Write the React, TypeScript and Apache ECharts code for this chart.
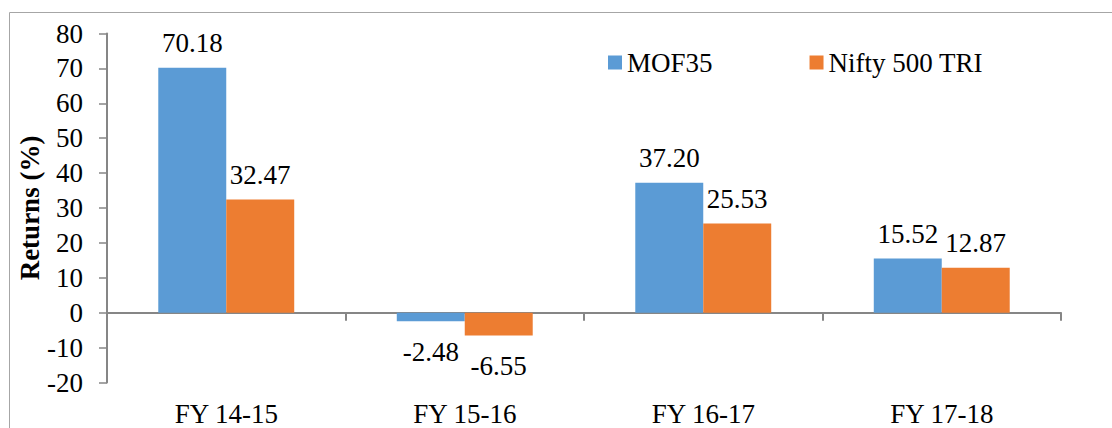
import React, { useEffect, useRef } from "react";
import * as echarts from "echarts";

const categories = ["FY 14-15", "FY 15-16", "FY 16-17", "FY 17-18"];
const mof35 = [70.18, -2.48, 37.2, 15.52];
const nifty500 = [32.47, -6.55, 25.53, 12.87];
const seriesNames = ["MOF35", "Nifty 500 TRI"];
const yMin = -20;
const yMax = 80;
const yInterval = 10;

const FONT = "Liberation Serif";

function toData(values: number[]) {
  return values.map((v) => ({
    value: v,
    label: v < 0 ? { position: "bottom", distance: 17 } : { position: "top", distance: 11 },
  }));
}

export default function App() {
  const ref = useRef<HTMLDivElement>(null);
  useEffect(() => {
    if (!ref.current) return;
    const chart = echarts.init(ref.current, null, { renderer: "svg" });
    const labelStyle = {
      show: true,
      fontFamily: FONT,
      fontSize: 27,
      color: "#000",
      formatter: (p: any) => Number(p.value).toFixed(2),
    };
    chart.setOption({
      animation: false,
      backgroundColor: "#fff",
      textStyle: { fontFamily: FONT },
      graphic: [
        {
          type: "rect",
          shape: { x: 9.5, y: 12.5, width: 1200, height: 600 },
          style: { fill: "none", stroke: "#a6a6a6", lineWidth: 1 },
          silent: true,
          z: -1,
        },
      ],
      legend: {
        left: 603,
        top: 44,
        itemWidth: 14,
        itemHeight: 14,
        itemGap: 97,
        icon: "rect",
        textStyle: { fontFamily: FONT, fontSize: 27, color: "#000" },
        data: seriesNames,
      },
      grid: {
        left: 107,
        right: 51,
        top: 33.5,
        bottom: 45.5,
        containLabel: false,
        outerBoundsMode: "none",
      },
      xAxis: {
        type: "category",
        data: categories,
        axisLine: { show: true, onZero: true, lineStyle: { color: "#868686", width: 2 } },
        axisTick: { show: true, length: 8, lineStyle: { color: "#868686", width: 2 } },
        axisLabel: { margin: 18, fontFamily: FONT, fontSize: 27, color: "#000" },
        splitLine: { show: false },
      },
      yAxis: {
        type: "value",
        min: yMin,
        max: yMax,
        interval: yInterval,
        name: "Returns (%)",
        nameLocation: "middle",
        nameRotate: 90,
        nameGap: 64,
        nameMoveOverlap: false,
        nameTextStyle: { fontFamily: FONT, fontSize: 27, fontWeight: "bold", color: "#000" },
        axisLine: { show: true, lineStyle: { color: "#868686", width: 2 } },
        axisTick: { show: true, length: 8, lineStyle: { color: "#868686", width: 1.5 } },
        axisLabel: { margin: 24, fontFamily: FONT, fontSize: 27, color: "#000" },
        splitLine: { show: false },
      },
      series: [
        {
          name: seriesNames[0],
          type: "bar",
          data: toData(mof35),
          itemStyle: { color: "#5B9BD5" },
          barGap: "0%",
          barCategoryGap: "43%",
          label: labelStyle,
        },
        {
          name: seriesNames[1],
          type: "bar",
          data: toData(nifty500),
          itemStyle: { color: "#ED7D31" },
          barGap: "0%",
          barCategoryGap: "43%",
          label: labelStyle,
        },
      ],
    });
    return () => chart.dispose();
  }, []);
  return (
    <div
      ref={ref}
      style={{ position: "fixed", left: 0, top: 0, width: 1112, height: 428 }}
    />
  );
}
